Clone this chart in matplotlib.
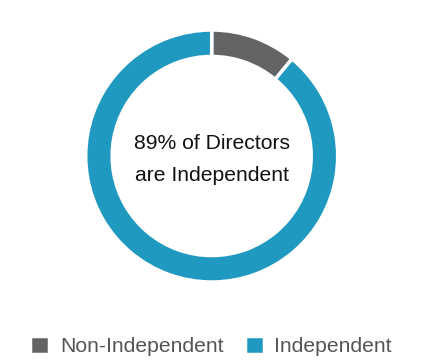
import matplotlib.pyplot as plt

labels = ['Non-Independent', 'Independent']
values = [11, 89]
colors = ['#636466', '#1f99bf']
center_text = '89% of Directors\nare Independent'


def create():
    plt.rcParams['font.family'] = ['Liberation Sans', 'DejaVu Sans']
    fig = plt.figure(figsize=(4.22, 3.64), dpi=100)

    # donut centre ~ (212, 156) px, outer radius ~126 px
    cx, cy, r = 211.7, 156, 126
    ax = fig.add_axes([(cx - r) / 422, (364 - cy - r) / 364, 2 * r / 422, 2 * r / 364])
    wedges, _ = ax.pie(values, colors=colors, startangle=90, counterclock=False,
                       radius=1, wedgeprops=dict(width=0.21, edgecolor='white', linewidth=2.5))
    ax.set_xlim(-1, 1)
    ax.set_ylim(-1, 1)
    ax.set_aspect('equal')
    ax.axis('off')

    ax.text(0, -0.03, center_text, ha='center', va='center', fontsize=15.2,
            color='#111111', linespacing=1.85)

    fig.legend(wedges, labels, loc='center', bbox_to_anchor=(0.5, 0.05), ncol=2,
               frameon=False, handlelength=0.9, handleheight=0.95, handletextpad=0.5,
               columnspacing=1.0, fontsize=15.2, labelcolor='#555555')

    fig.savefig('out.png', dpi=100)


if __name__ == "__main__":
    create()
